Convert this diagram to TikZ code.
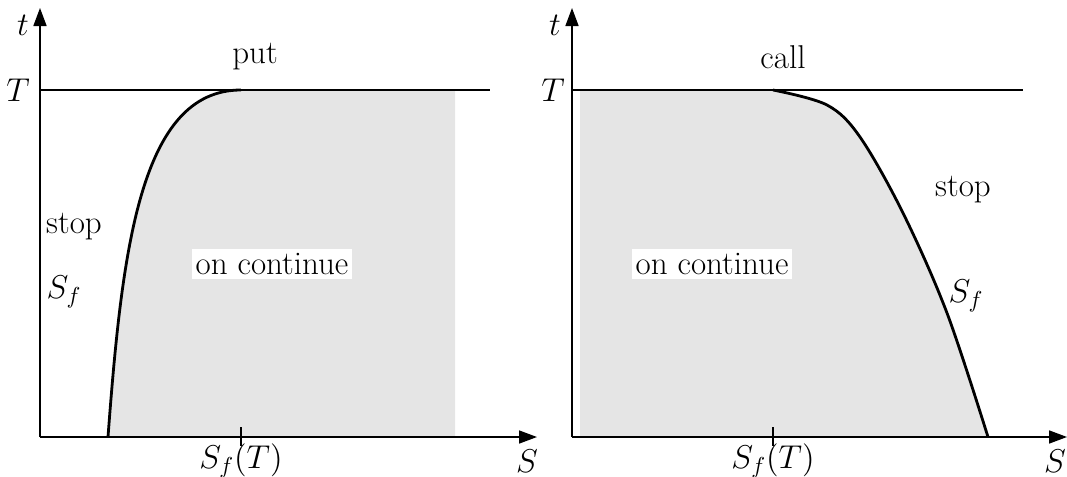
\documentclass[tikz,border=0pt]{standalone}
\usepackage{fix-cm}
\usepackage{amsmath,amssymb}
\usepackage{tikz}
\usetikzlibrary{arrows.meta,positioning,calc}
\usepackage{xcolor}

\begin{document}
\begin{tikzpicture}[x=0.5pt,y=-0.5pt,
axis/.style={line width=0.8pt,-{Triangle[length=9pt,width=6.5pt]}},
bound/.style={line width=1.4pt},
lbl/.style={inner sep=1pt,font=\fontsize{16.5}{19}\selectfont},
boxlbl/.style={lbl,fill=white,inner sep=2pt}]
\useasboundingbox (0,0) rectangle (1067,477);
% left picture: put
\coordinate (o1) at (40,437);
\coordinate (xe1) at (537,437);
\coordinate (ye1) at (40,8);
\coordinate (ta1) at (40,90);
\coordinate (tb1) at (490,90);
\coordinate (sf1) at (241,90);
\coordinate (s01) at (108,437);
\fill[black!10] (s01) .. controls (122,250) and (140,90) .. (sf1) -- (455,90) -- (455,436) -- cycle;
\draw[line width=0.6pt] (ta1) -- (tb1);
\draw[line width=0.6pt] (241,427) coordinate (k1) -- (241,446);
\draw[bound] (s01) .. controls (122,250) and (140,90) .. (sf1);
\draw[axis] (o1) -- (xe1);
\draw[axis] (o1) -- (ye1);
\node[lbl] (t1) at (23,25) {$t$};
\node[lbl] (T1) at (18,90) {$T$};
\node[lbl] (S1) at (527,461) {$S$};
\node[lbl] (sft1) at (241,461) {$S_f(T)$};
\node[lbl] (put) at (255,57) {put};
\node[lbl] (stop1) at (74,227) {stop};
\node[lbl] (sfl1) at (64,292) {$S_f$};
\node[boxlbl] (cont1) at (272,264) {on continue};
% right picture: call
\coordinate (o2) at (572,437);
\coordinate (xe2) at (1067,437);
\coordinate (ye2) at (572,8);
\coordinate (ta2) at (572,90);
\coordinate (tb2) at (1023,90);
\coordinate (sf2) at (773,90);
\coordinate (s02) at (988,437);
\fill[black!10] (580,90) -- (sf2) -- plot[smooth,tension=0.55] coordinates {(773,90) (827,105) (860,137) (903,213) (947,313) (988,437)}
  -- (s02) -- (580,436) -- cycle;
\draw[line width=0.6pt] (ta2) -- (tb2);
\draw[line width=0.6pt] (773,427) coordinate (k2) -- (773,446);
\draw[bound] plot[smooth,tension=0.55] coordinates {(773,90) (827,105) (860,137) (903,213) (947,313) (988,437)};
\draw[axis] (o2) -- (xe2);
\draw[axis] (o2) -- (ye2);
\node[lbl] (t2) at (555,25) {$t$};
\node[lbl] (T2) at (553,90) {$T$};
\node[lbl] (S2) at (1055,461) {$S$};
\node[lbl] (sft2) at (773,461) {$S_f(T)$};
\node[lbl] (call) at (783,57) {call};
\node[lbl] (stop2) at (963,190) {stop};
\node[lbl] (sfl2) at (966,296) {$S_f$};
\node[boxlbl] (cont2) at (712,264) {on continue};
\end{tikzpicture}
\end{document}
